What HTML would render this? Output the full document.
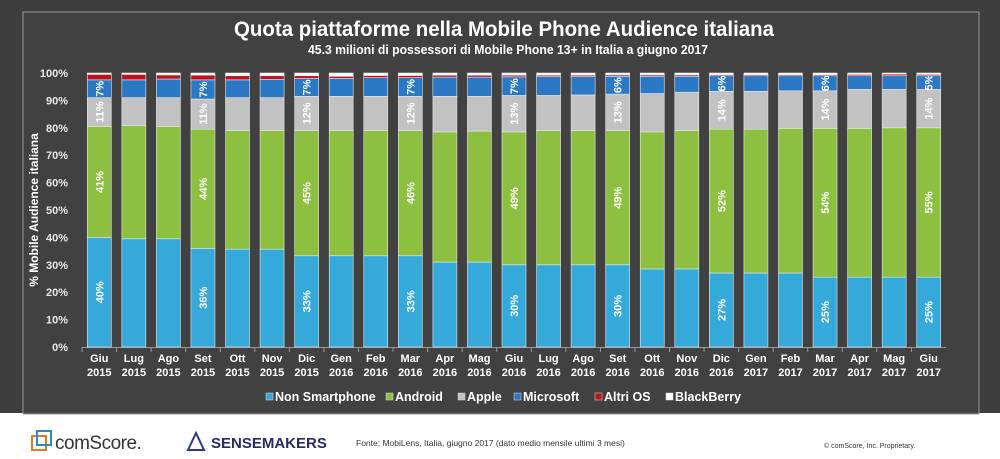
<!DOCTYPE html>
<html><head><meta charset="utf-8"><style>
body{margin:0;width:1000px;height:459px;overflow:hidden;background:#fff;font-family:"Liberation Sans",sans-serif}
</style></head><body>
<svg width="1000" height="459" style="position:absolute;left:0;top:0">
<rect x="0" y="0" width="1000" height="413" fill="#3e3e3e"/>
<rect x="23" y="12" width="956" height="402" fill="#414141" stroke="#9a9a9a" stroke-width="1"/>
<text x="504" y="36" fill="#fff" font-size="21" font-weight="bold" text-anchor="middle" textLength="540" lengthAdjust="spacingAndGlyphs">Quota piattaforme nella Mobile Phone Audience italiana</text>
<text x="508" y="54" fill="#fff" font-size="12.5" font-weight="bold" text-anchor="middle" textLength="400" lengthAdjust="spacingAndGlyphs">45.3 milioni di possessori di Mobile Phone 13+ in Italia a giugno 2017</text>
<text transform="translate(38,210) rotate(-90)" fill="#fff" font-size="12" font-weight="bold" text-anchor="middle">% Mobile Audience italiana</text>
<g id="plot"></g>
<g id="legend"></g>
<g>
<rect x="32" y="436" width="14" height="14" fill="none" stroke="#e07a20" stroke-width="2"/>
<rect x="37" y="431" width="14" height="14" fill="none" stroke="#2a8ac8" stroke-width="2"/>
<text x="55" y="449" fill="#333" font-size="19" letter-spacing="-0.5">comScore.</text>
<path d="M196 433 L188 450 L204 450 Z" fill="none" stroke="#2a3a8a" stroke-width="2"/>
<text x="211" y="448" fill="#2a2a6a" font-size="15" font-weight="bold">SENSEMAKERS</text>
<text x="356" y="446" fill="#333" font-size="8.5">Fonte: MobiLens, Italia, giugno 2017 (dato medio mensile ultimi 3 mesi)</text>
<text x="824" y="448" fill="#333" font-size="7">© comScore, Inc. Proprietary.</text>
</g>
</svg>
<script>
const months=["Giu","Lug","Ago","Set","Ott","Nov","Dic","Gen","Feb","Mar","Apr","Mag","Giu","Lug","Ago","Set","Ott","Nov","Dic","Gen","Feb","Mar","Apr","Mag","Giu"];
const years=["2015","2015","2015","2015","2015","2015","2015","2016","2016","2016","2016","2016","2016","2016","2016","2016","2016","2016","2016","2017","2017","2017","2017","2017","2017"];
const nonSmart=[40,39.5,39.5,36,35.7,35.7,33.3,33.3,33.3,33.3,31,31,30,30,30,30,28.5,28.5,27,27,27,25.5,25.5,25.5,25.5];
const android=[40.5,41.3,41,43.5,43.3,43.3,45.7,45.7,45.7,45.7,47.5,47.8,48.5,49,49,49,50,50.5,52.5,52.5,52.8,54.3,54.3,54.5,54.5];
const apple=[10.5,10.2,10.5,11,12,12,12.5,12.5,12.5,12.5,13,12.7,13.3,12.8,13,13.3,14,14,13.8,13.8,13.7,13.7,14.2,14,14];
const microsoft=[6.5,6.5,6.8,7,6.5,6.7,6.5,6.5,6.8,6.8,7,7,6.8,6.9,6.7,6.5,6.3,5.8,5.7,5.7,5.5,5.5,5,5,5];
const altri=[2,2,1.5,1.7,1.5,1.3,1,0.8,0.8,0.8,0.7,0.7,0.6,0.5,0.5,0.5,0.5,0.5,0.4,0.4,0.4,0.4,0.5,0.6,0.5];
const labelIdx=[0,3,6,9,12,15,18,21,24];
const labelNonSmart=["40%","36%","33%","33%","30%","30%","27%","25%","25%"];
const labelAndroid=["41%","44%","45%","46%","49%","49%","52%","54%","55%"];
const labelApple=["11%","11%","12%","12%","13%","13%","14%","14%","14%"];
const labelMicrosoft=["7%","7%","7%","7%","7%","6%","6%","6%","5%"];
const yTicks=[0,10,20,30,40,50,60,70,80,90,100];
const seriesNames=["Non Smartphone","Android","Apple","Microsoft","Altri OS","BlackBerry"];
const colors=["#35a9d9","#8dc040","#c2c2c2","#2b78c4","#c0101a","#ffffff"];
const NS="http://www.w3.org/2000/svg";
const X0=82,X1=946,Y0=347,Y1=73;
const n=months.length,step=(X1-X0)/n,bw=24;
const y=v=>Y0-(Y0-Y1)*v/100;
const xc=i=>X0+step*(i+0.5);
const plot=document.getElementById('plot');
const labelSets=[labelNonSmart,labelAndroid,labelApple,labelMicrosoft];
function mk(t,a,p){const e=document.createElementNS(NS,t);for(const k in a)e.setAttribute(k,a[k]);(p||plot).appendChild(e);return e;}
yTicks.forEach(t=>{
 const l=mk('text',{x:68,y:y(t)+4,fill:'#e8e8e8','font-size':11,'font-weight':'bold','text-anchor':'end'});
 
 
 l.textContent=t+'%';
});
const ax=mk('line',{x1:X0,x2:X1,y1:Y0+0.5,y2:Y0+0.5,stroke:'#999'});


const series=[nonSmart,android,apple,microsoft,altri];
for(let i=0;i<n;i++){
 let cum=0;const cx=xc(i);
 const vals=series.map(s=>s[i]);
 const bbv=Math.max(0,100-vals.reduce((a,b)=>a+b,0));
 vals.push(bbv);
 const li=labelIdx.indexOf(i);
 vals.forEach((v,k)=>{
  const r=mk('rect',{x:cx-bw/2,y:y(cum+v),width:bw,height:Math.max(0,y(cum)-y(cum+v)),fill:colors[k],stroke:'#e8e8e8','stroke-width':0.6});
  
  
  if(li>=0&&k<4){
   const my=(y(cum)+y(cum+v))/2;
   const t=mk('text',{transform:`translate(${cx+4},${my}) rotate(-90)`,fill:'#fff','font-size':11,'font-weight':'bold','text-anchor':'middle'});
   
   
   t.textContent=labelSets[k][li];
  }
  cum+=v;
 });
 mk('line',{x1:X0+step*i,x2:X0+step*i,y1:Y0,y2:Y0+5,stroke:'#999'});
 const m=mk('text',{x:cx,y:362,fill:'#fff','font-size':11,'font-weight':'bold','text-anchor':'middle'});
 
 
 m.textContent=months[i];
 const yr=mk('text',{x:cx,y:376,fill:'#fff','font-size':11,'font-weight':'bold','text-anchor':'middle'});
 
 
 yr.textContent=years[i];
}
const lg=document.getElementById('legend');
const lx=[266,386,458,514,595,666];
seriesNames.forEach((s,k)=>{
 const g=mk('g',{},lg);
 
 
 mk('rect',{x:lx[k],y:393,width:7,height:7,fill:colors[k],stroke:'#ddd','stroke-width':0.5},g);
 const t=mk('text',{x:lx[k]+9,y:401,fill:'#fff','font-size':12.5,'font-weight':'bold'},g);
 t.textContent=s;
});
</script>
</body></html>
